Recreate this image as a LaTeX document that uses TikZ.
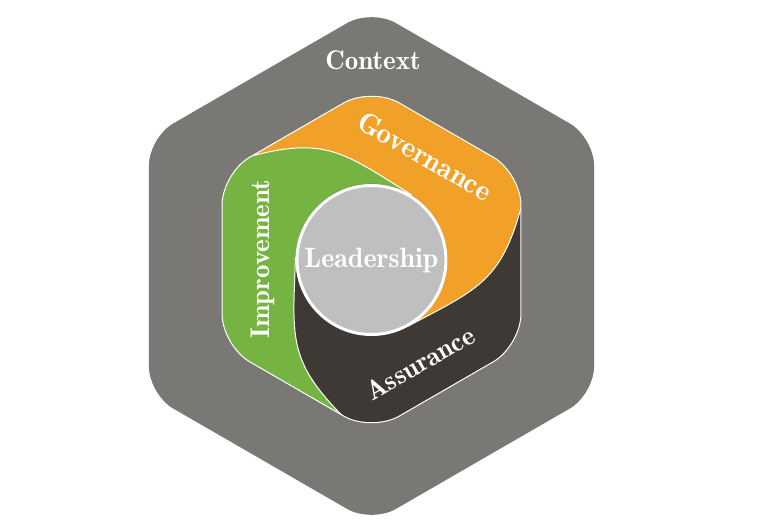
\documentclass[tikz,border=0pt]{standalone}
\definecolor{ctxgray}{RGB}{122,120,116}
\definecolor{govorange}{RGB}{241,160,40}
\definecolor{impgreen}{RGB}{117,180,66}
\definecolor{assdark}{RGB}{62,57,53}
\definecolor{leadgray}{RGB}{191,191,191}
\begin{document}
\begin{tikzpicture}
  [
    x=1pt, y=1pt,
    line join=round,
    wordlabel/.style={text=white, inner sep=0pt,
      font=\fontseries{b}\fontsize{#1}{#1}\selectfont},
    wordlabel/.default=28,
    seam/.style={white, line width=1pt},
  ]
\useasboundingbox (-371.5,-260.5) rectangle (388.5,259.5);

\def\Rout{257}
\def\Rin{172.6}
\def\Rc{76}
\newcommand\hexpath[1]{(0:{0.866*#1}) -- (30:#1) -- (90:#1) -- (150:#1)
  -- (210:#1) -- (270:#1) -- (330:#1) -- cycle}

% context
\fill[ctxgray, rounded corners=28pt, yshift=-6.5pt] \hexpath{\Rout};
\node[wordlabel=27] (ctx) at (1.5,199.5) {Context};

% the three swirls
\begin{scope}
  \clip[rounded corners=32pt] \hexpath{\Rin};
  \foreach \ang/\col in {0/govorange, 120/impgreen, 240/assdark}
    \fill[\col, rotate=\ang] (140:200) -- (140:160)
      .. controls +(15:80) and +(148:80) .. (58:\Rc)
      arc[start angle=58, end angle=-62, radius=\Rc]
      .. controls +(28:80) and +(255:80) .. (20:160)
      -- (20:200) arc[start angle=20, end angle=140, radius=200] -- cycle;
  \foreach \ang in {0,120,240}
    \draw[seam, rotate=\ang] (20:160) .. controls +(255:80) and +(28:80) .. (-62:\Rc);
\end{scope}
\draw[seam, rounded corners=32pt] \hexpath{\Rin};

\node[circle, fill=leadgray, draw=white, line width=3pt, inner sep=0pt,
  minimum size=149pt, wordlabel=28] (lead) at (0,-0.5) {Leadership};

\node[wordlabel=29, rotate=-30] (gov) at (53.5,103.5) {Governance};
\node[wordlabel=27, rotate=90] (imp) at (-108.5,0.5) {Improvement};
\node[wordlabel=27, rotate=30] (ass) at (48.5,-103.5) {Assurance};
\end{tikzpicture}
\end{document}
